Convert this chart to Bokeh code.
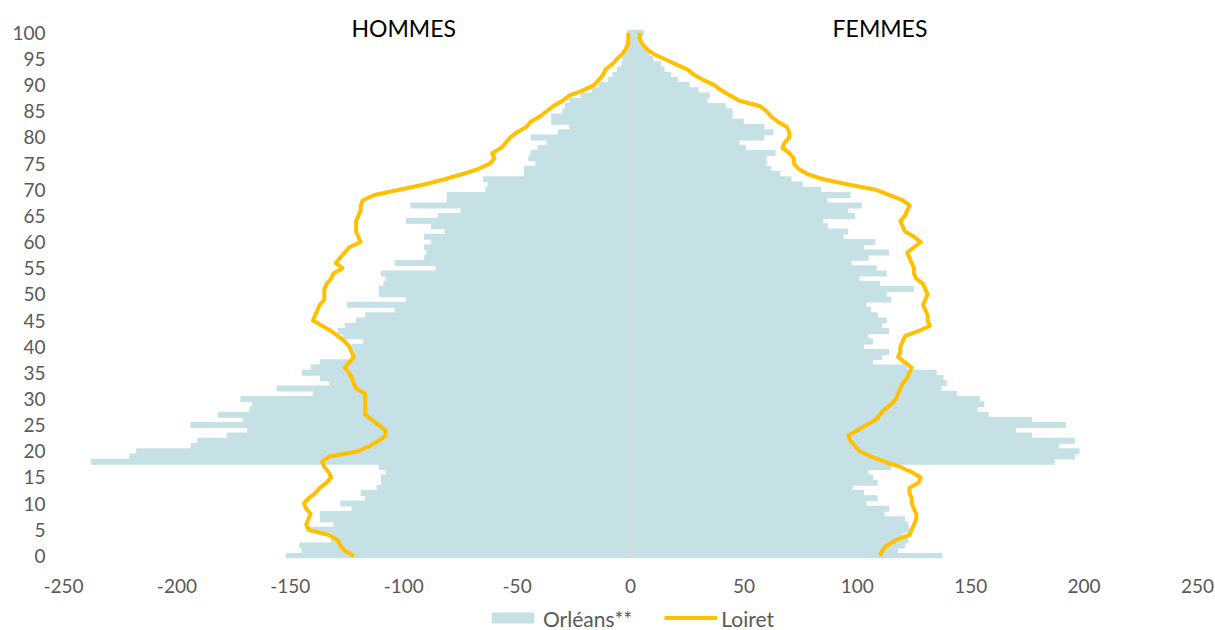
from bokeh.plotting import figure
from bokeh.layouts import column
from bokeh.models import ColumnDataSource, Range1d, FixedTicker, Legend, LegendItem, Label
from bokeh.embed import file_html
from bokeh.resources import INLINE

# ---- data ----
ages = list(range(0, 101))

orleans_hommes = [
    -152, -145, -146, -132, -132, -142, -131, -137, -137, -123,
    -128, -117, -119, -112, -110, -110, -108, -111, -238, -221,
    -218, -194, -191, -178, -169, -194, -171, -182, -168, -167,
    -172, -140, -156, -133, -137, -145, -141, -137, -123, -122,
    -123, -118, -127, -129, -126, -121, -117, -104, -125, -99,
    -111, -111, -109, -108, -110, -86, -104, -91, -90, -91,
    -88, -91, -82, -88, -99, -85, -75, -97, -81, -81,
    -64, -63, -65, -47, -47, -42, -45, -44, -41, -37,
    -44, -32, -27, -35, -35, -30, -29, -27, -22, -17,
    -14, -10, -8, -6, -4, -3.5, -3, -2.5, -2, -1.5, -1.5,
]

orleans_femmes = [
    137.5, 118, 121, 122.5, 120, 123, 122.5, 121, 112, 114,
    104, 109, 103, 98, 109, 107, 105, 115, 187, 196,
    198, 189, 196, 177, 170, 192, 177, 158, 153, 156,
    154, 144, 137, 139.5, 138, 135, 122, 107, 111, 114,
    103, 107, 105, 114, 111, 113, 109, 106, 104, 115,
    113, 125, 110, 101, 113, 108.5, 97.5, 105, 114, 103,
    108, 94, 96, 87, 85, 99, 96, 102, 87, 97,
    84, 76, 71, 66, 62, 60, 60, 64, 51, 48,
    59, 63, 59, 50, 45, 45, 42, 34, 35, 30,
    26, 21, 18, 15, 13.5, 10, 8.5, 7, 5.5, 5, 6,
]

loiret_hommes = [
    -122, -126, -128, -129, -133, -142, -143, -142, -141, -143,
    -144, -142, -139, -137, -134, -132, -133, -135, -136, -133,
    -120, -115, -111, -108, -108, -111, -114, -117, -117, -117,
    -117, -117, -121, -122, -123, -124, -126, -124, -122, -123,
    -124, -126, -129, -132, -136, -140, -139, -138, -137, -135,
    -135, -135, -134, -132, -131, -127, -130, -128, -126, -124,
    -119, -120, -121, -121, -121, -120, -119, -119, -118, -113,
    -102, -91, -82, -74, -67, -62, -60, -61, -57, -55,
    -53, -50, -46, -44, -40, -37, -34, -30, -27, -21,
    -16, -14, -12, -11, -8, -6, -3.5, -2, -1, -1, -1,
]

loiret_femmes = [
    110, 111, 113, 117, 123, 124, 125, 126, 126, 125,
    124, 124, 123, 123, 127, 128, 124, 119, 112, 106,
    101, 99, 97, 96, 100, 104, 108, 110, 112, 115,
    117, 118, 119, 120, 122, 123, 124, 121, 118, 119,
    119, 120, 121, 127, 132, 131, 131, 130, 129, 130,
    131, 130, 129, 126, 125, 125, 124, 123, 122, 125,
    128, 125, 121, 120, 119, 121, 122, 123, 120, 114,
    108, 96, 85, 78, 74, 72, 72, 70, 67, 68,
    70, 70, 69, 65, 62, 60, 57, 48, 44, 40,
    37, 32, 28, 25, 20, 15, 10, 7, 5, 4, 4,
]

x_ticks = [-250, -200, -150, -100, -50, 0, 50, 100, 150, 200, 250]
y_ticks = list(range(0, 101, 5))
series_names = ["Orléans**", "Loiret"]
side_titles = ["HOMMES", "FEMMES"]

# ---- style ----
FONT = "Lato"
BAR = "#C5E1E5"
GOLD = "#FFC000"
GREY = "#595959"

src = ColumnDataSource(dict(age=ages, h=orleans_hommes, f=orleans_femmes,
                            lh=loiret_hommes, lf=loiret_femmes))

p = figure(width=1215, height=605, x_range=Range1d(-250, 250), y_range=Range1d(-0.5, 103.5),
           output_backend="svg", toolbar_location=None, title=None,
           min_border_left=63, min_border_right=18, min_border_top=14, min_border_bottom=47,
           outline_line_color=None)

p.xgrid.visible = False
p.ygrid.visible = False

for ax, ticks in ((p.xaxis, x_ticks), (p.yaxis, y_ticks)):
    ax.ticker = FixedTicker(ticks=ticks)
    ax.axis_line_color = None
    ax.major_tick_line_color = None
    ax.minor_tick_line_color = None
    ax.major_tick_out = 0
    ax.major_tick_in = 0
    ax.major_label_text_font = FONT
    ax.major_label_text_font_size = "19px"
    ax.major_label_text_color = GREY
p.xaxis.major_label_overrides = {t: str(t) for t in x_ticks}
p.xaxis.major_label_standoff = 20
p.yaxis.major_label_standoff = 18

r_h = p.hbar(y="age", left="h", right=0, height=1.15, source=src, fill_color=BAR, line_color=None)
r_f = p.hbar(y="age", left=0, right="f", height=1.15, source=src, fill_color=BAR, line_color=None)

# vertical axis line at zero
p.segment(x0=0, y0=-0.5, x1=0, y1=100.5, line_color="#D9D9D9", line_width=1)

l_h = p.line(x="lh", y="age", source=src, line_color=GOLD, line_width=4, line_join="round")
l_f = p.line(x="lf", y="age", source=src, line_color=GOLD, line_width=4, line_join="round")

for txt, xpos in zip(side_titles, (-100, 110)):
    p.add_layout(Label(x=xpos, y=100.85, text=txt, text_align="center", text_baseline="middle",
                       text_font=FONT, text_font_size="23px", text_color="black"))

# ---- legend strip under the chart: same series styles, ranges keep the marks out of view ----
q = figure(width=1215, height=25, x_range=Range1d(1000, 1001), y_range=Range1d(1000, 1001),
           output_backend="svg", toolbar_location=None, title=None,
           x_axis_type=None, y_axis_type=None,
           min_border_left=63, min_border_right=18, min_border_top=0, min_border_bottom=0,
           outline_line_color=None)
q.xgrid.visible = False
q.ygrid.visible = False
k_bar = q.hbar(y="age", left="h", right=0, height=1, source=src, fill_color=BAR, line_color=None)
k_line = q.line(x="lh", y="age", source=src, line_color=GOLD, line_width=4)

legend = Legend(items=[LegendItem(label=series_names[0], renderers=[k_bar]),
                       LegendItem(label=series_names[1], renderers=[k_line])],
                orientation="horizontal", location="center",
                glyph_width=53, glyph_height=14, label_standoff=4, spacing=32,
                padding=0, margin=0, border_line_color=None, background_fill_alpha=0,
                label_text_font=FONT, label_text_font_size="21px", label_text_color=GREY,
                label_height=16)
q.add_layout(legend)

open("out.html", "w").write(file_html(column(p, q, spacing=0), INLINE))
